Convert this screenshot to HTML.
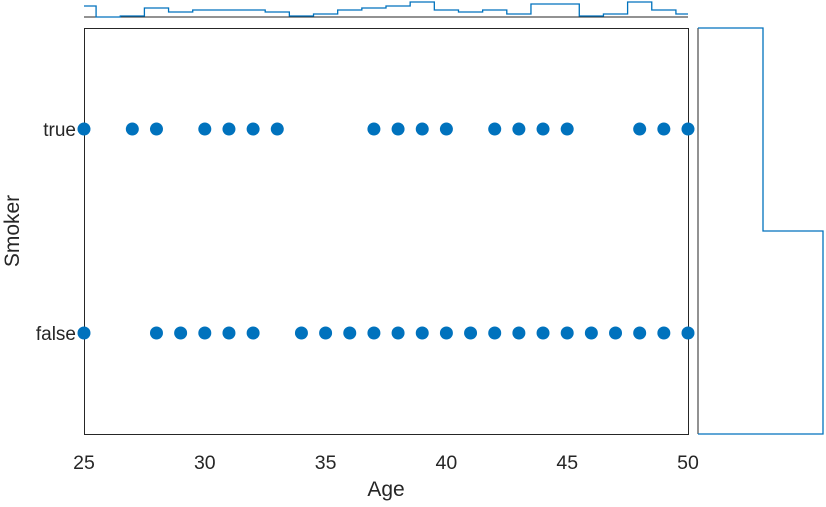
<!DOCTYPE html>
<html><head><meta charset="utf-8"><style>
body{margin:0;background:#fff;}
svg text{font-family:"Liberation Sans",Arial,sans-serif;fill:#262626;}
</style></head><body>
<svg id="c" width="826" height="502" xmlns="http://www.w3.org/2000/svg"></svg>
<script>
const trueAges=[25,27,28,30,31,32,33,37,38,39,40,42,43,44,45,48,49,50];
const falseAges=[25,28,29,30,31,32,34,35,36,37,38,39,40,41,42,43,44,45,46,47,48,49,50];
const histAges=[25,26,27,28,29,30,31,32,33,34,35,36,37,38,39,40,41,42,43,44,45,46,47,48,49,50];
const histValues=[11,0,1,9,5,7,7,7,5,1,3,7,9,11,15,7,5,7,3,13,13,1,3,15,7,3];
const groupLabels=["true","false"];
const groupHist=[65,125];
const xTicks=[25,30,35,40,45,50];

const svg=document.getElementById('c');
const NS="http://www.w3.org/2000/svg";
const L=84,R=688,T=28,B=434;
const X=v=>L+(v-25)/(50-25)*(R-L);
const Yg={"true":129,"false":333};
function el(t,a,p){const e=document.createElementNS(NS,t);for(const k in a)e.setAttribute(k,a[k]);(p||svg).appendChild(e);return e;}

const box=el('rect',{x:L+0.5,y:T+0.5,width:R-L,height:B-T,fill:'none',stroke:'#262626','stroke-width':1});



xTicks.forEach(v=>{
  const tx=el('text',{x:X(v),y:B+35,'text-anchor':'middle','font-size':19.5});
  tx.textContent=v;
  
  
});
groupLabels.forEach(g=>{
  const tx=el('text',{x:L-8,y:Yg[g]+7,'text-anchor':'end','font-size':19});
  tx.textContent=g;
  
  
});
const xt=el('text',{x:(L+R)/2,y:496,'text-anchor':'middle','font-size':21});
xt.textContent='Age';


const yt=el('text',{x:19,y:231,'text-anchor':'middle','font-size':21,transform:'rotate(-90 19 231)'});
yt.textContent='Smoker';



function dots(arr,g){arr.forEach(a=>{
  const c=el('circle',{cx:X(a),cy:Yg[g],r:6.5,fill:'#0072BD'});
  
  
});}
dots(trueAges,'true');dots(falseAges,'false');

const base=17;
const bl=el('line',{x1:L,x2:R,y1:base,y2:base,stroke:'#262626'});


let d='';
histAges.forEach((a,i)=>{
  const x0=Math.max(L,X(a-0.5)),x1=Math.min(R,X(a+0.5)),y=base-histValues[i];
  d+=(i===0?'M':'L')+x0+' '+y+' L'+x1+' '+y+' ';
});
const hp=el('path',{d:d,fill:'none',stroke:'#0072BD','stroke-width':1.3});



const rb=698;
const rl=el('line',{x1:rb,x2:rb,y1:T,y2:B,stroke:'#262626'});


const mid=(T+B)/2;
let d2='M'+rb+' '+T;
groupLabels.forEach((g,i)=>{
  const y0=g==='true'?T:mid,y1=g==='true'?mid:B,x=rb+groupHist[i];
  d2+=' L'+x+' '+y0+' L'+x+' '+y1;
});
d2+=' L'+rb+' '+B;
const rp=el('path',{d:d2,fill:'none',stroke:'#0072BD','stroke-width':1.3});


</script>
</body></html>
